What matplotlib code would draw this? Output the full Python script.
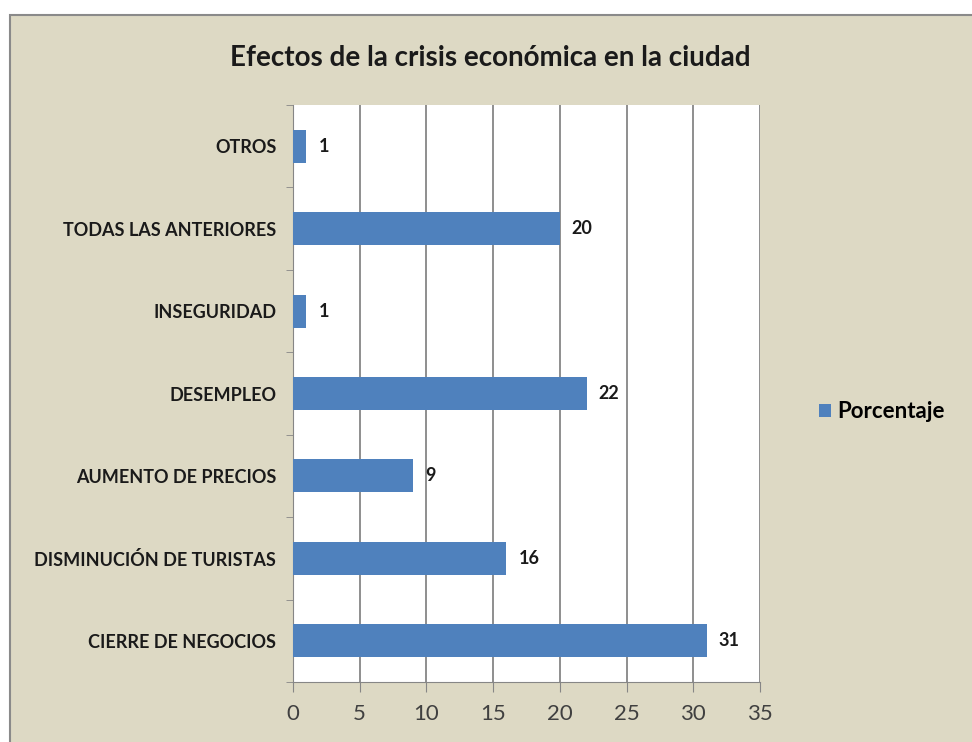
import numpy as np
import matplotlib.pyplot as plt
from matplotlib.patches import Rectangle

categorias = ["CIERRE DE NEGOCIOS", "DISMINUCIÓN DE TURISTAS", "AUMENTO DE PRECIOS",
              "DESEMPLEO", "INSEGURIDAD", "TODAS LAS ANTERIORES", "OTROS"]
porcentaje = [31, 16, 9, 22, 1, 20, 1]
x_ticks = [0, 5, 10, 15, 20, 25, 30, 35]

BAR_COLOR = "#4f81bd"
BG_COLOR = "#ddd9c4"
GRID_COLOR = "#868686"

plt.rcParams["font.family"] = ["Lato", "DejaVu Sans"]

fig = plt.figure(figsize=(9.72, 7.42), dpi=100, facecolor="white")

# chart area background with border (behind the axes)
fig.patches.append(Rectangle((10 / 972, -0.05), 1.0, 1.05 - 15 / 742, transform=fig.transFigure,
                             facecolor=BG_COLOR, edgecolor="#8a8a8a", linewidth=1.5, zorder=-5))

ax = fig.add_axes([293 / 972, 60 / 742, 467 / 972, 577 / 742])
ax.set_facecolor("white")
ax.set_zorder(2)

y = np.arange(len(categorias))
bars = ax.barh(y, porcentaje, height=0.4, color=BAR_COLOR, zorder=3)

for yi, v in zip(y, porcentaje):
    ax.text(v + 0.9, yi, str(v), va="center", ha="left", fontsize=13,
            fontweight="bold", color="#1a1a1a", zorder=4)

ax.set_xlim(0, 35)
ax.set_ylim(-0.5, len(categorias) - 0.5)
ax.set_xticks(x_ticks)
ax.set_xticklabels([str(t) for t in x_ticks], fontsize=16, color="#404040")
ax.set_yticks(y)
ax.set_yticklabels(categorias, fontsize=13, fontweight="bold", color="#1a1a1a")
ax.tick_params(axis="y", length=0, pad=12)
ax.set_yticks(np.arange(-0.5, len(categorias), 1), minor=True)
ax.tick_params(axis="y", which="minor", length=5, color=GRID_COLOR, direction="out")
ax.tick_params(axis="x", length=7, direction="out", color=GRID_COLOR, pad=9)

ax.grid(axis="x", color=GRID_COLOR, linewidth=1.3, zorder=1)
ax.set_axisbelow(True)
ax.spines["top"].set_visible(False)
ax.spines["right"].set_visible(False)
ax.spines["left"].set_color(GRID_COLOR)
ax.spines["bottom"].set_color(GRID_COLOR)

fig.text(490 / 972, 1 - 58 / 742, "Efectos de la crisis económica en la ciudad",
         ha="center", va="center", fontsize=20, fontweight="bold", color="#1a1a1a")

leg = ax.legend([bars], ["Porcentaje"], loc="center left", bbox_to_anchor=(808 / 972, 1 - 412 / 742),
                bbox_transform=fig.transFigure, frameon=False, handlelength=0.55, handleheight=0.55,
                handletextpad=0.25, borderpad=0, prop={"size": 16, "weight": "bold"})

fig.savefig("out.png", dpi=100, facecolor=fig.get_facecolor())
